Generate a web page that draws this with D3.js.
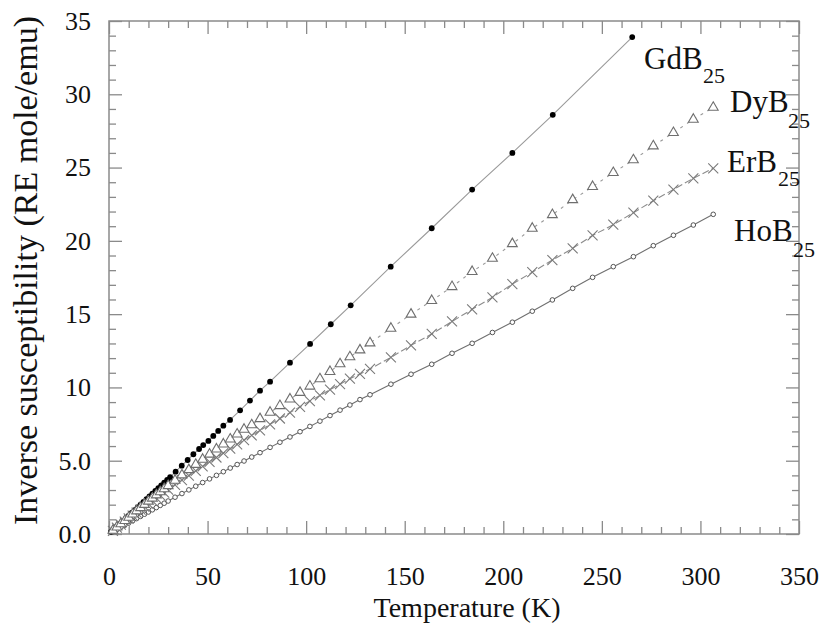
<!DOCTYPE html>
<html>
<head>
<meta charset="utf-8">
<script src="https://cdn.jsdelivr.net/npm/d3@7"></script>
<style>
  body { margin: 0; background: #fff; }
  svg text { font-family: "Liberation Serif", "Times New Roman", serif; fill: #111; }
</style>
</head>
<body>
<div id="chart"></div>
<script>
// tick labels
var xTicks = [0, 50, 100, 150, 200, 250, 300, 350];
var yTicks = [0, 5, 10, 15, 20, 25, 30, 35];

// GdB25 (filled circles)
var gdT = [1, 2.5, 4, 5.5, 7, 8.5, 10, 11.5, 13, 14.5, 16, 17.5, 19, 20.5, 22, 23.5, 25, 26.5, 28, 29.5, 31,
    33.8, 36.9, 39.9, 42.8, 45.7, 47.8, 50.4, 52.9, 55.4, 58.0, 61.4, 66.5, 71.5, 76.6, 81.7, 91.8,
    102, 112.5, 122.6, 142.9, 163.7, 184.2, 204.6, 225.1, 265.4];
var gdY = [0.15, 0.33, 0.51, 0.69, 0.88, 1.06, 1.25, 1.44, 1.62, 1.81, 2.0, 2.19, 2.38, 2.56, 2.75, 2.94, 3.13, 3.32, 3.5, 3.69, 3.88,
    4.25, 4.66, 5.05, 5.44, 5.8, 6.07, 6.35, 6.69, 7.03, 7.39, 7.78, 8.44, 9.1, 9.78, 10.39, 11.69,
    12.97, 14.31, 15.6, 18.24, 20.86, 23.5, 26.0, 28.6, 33.9];

// temperatures shared by DyB25, ErB25, HoB25
var temps = [2, 4, 6, 8, 10, 12, 14, 16, 18, 20, 22, 24, 26, 28, 30,
    33.5, 37, 40.5, 44, 47.5, 51, 54.5, 58, 61.5, 65, 68.5,
    72.4, 76.6, 81.7, 86.7, 91.8, 96.9, 101.9, 107, 112.1, 117.2, 122.2, 127.3, 132.4,
    143, 153.2, 163.7, 174, 184.2, 194.5, 204.6, 214.7, 224.9, 235.2, 245.3, 255.8, 266, 276.1, 286.3, 296.4, 306.5];

var dyY = [0.25, 0.47, 0.69, 0.91, 1.13, 1.35, 1.57, 1.79, 2.01, 2.23, 2.44, 2.66, 2.87, 3.08, 3.29,
    3.66, 4.02, 4.38, 4.74, 5.09, 5.44, 5.79, 6.13, 6.47, 6.81, 7.14,
    7.44, 7.86, 8.3, 8.75, 9.2, 9.65, 10.08, 10.58, 11.08, 11.6, 12.08, 12.55, 13.03,
    14.03, 14.99, 15.92, 16.87, 17.9, 18.8, 19.8, 20.85, 21.78, 22.8, 23.7, 24.65, 25.52, 26.47, 27.38, 28.29, 29.1];

var erY = [0.22, 0.43, 0.64, 0.85, 1.06, 1.26, 1.46, 1.66, 1.86, 2.06, 2.26, 2.45, 2.64, 2.83, 3.02,
    3.35, 3.67, 3.99, 4.3, 4.61, 4.92, 5.22, 5.52, 5.82, 6.12, 6.41,
    6.73, 7.07, 7.48, 7.88, 8.28, 8.68, 9.07, 9.46, 9.85, 10.22, 10.6, 10.92, 11.26,
    12.05, 12.87, 13.65, 14.5, 15.33, 16.15, 17.05, 17.86, 18.69, 19.49, 20.37, 21.1, 21.92, 22.74, 23.5, 24.27, 24.95];

var hoY = [0.15, 0.3, 0.45, 0.6, 0.75, 0.9, 1.05, 1.2, 1.35, 1.5, 1.65, 1.8, 1.95, 2.1, 2.25,
    2.51, 2.76, 3.01, 3.26, 3.51, 3.76, 4.0, 4.25, 4.5, 4.74, 4.98,
    5.25, 5.55, 5.91, 6.26, 6.62, 6.98, 7.34, 7.7, 8.08, 8.45, 8.8, 9.17, 9.5,
    10.22, 10.9, 11.58, 12.33, 13.01, 13.75, 14.45, 15.2, 15.97, 16.76, 17.51, 18.24, 18.92, 19.67, 20.38, 21.08, 21.81];

var W = 838, H = 623;
var margin = { top: 21, right: 39, bottom: 89, left: 109 },
    width = W - margin.left - margin.right,
    height = H - margin.top - margin.bottom;

var x = d3.scaleLinear().domain([0, 350]).range([0, width]);
var y = d3.scaleLinear().domain([0, 35]).range([height, 0]);

var svg = d3.select("#chart").append("svg")
    .attr("width", W)
    .attr("height", H)
    .append("g")
    .attr("transform", "translate(" + margin.left + "," + margin.top + ")");

var axisColor = "#8a8a8a";
var serif = '"Liberation Serif", "Times New Roman", serif';
var minorX = d3.range(0, 351, 10).filter(function (d) { return d % 50 !== 0; });
var minorY = d3.range(0, 36, 1).filter(function (d) { return d % 5 !== 0; });

function styleAxis(g) {
    g.attr("font-family", null).attr("font-size", null);
    g.select(".domain").remove();
    g.selectAll(".tick line").attr("stroke", axisColor).attr("stroke-width", 1.3);
    g.selectAll(".tick text")
        .style("font-family", serif)
        .style("font-size", "26px")
        .attr("fill", "#111");
}

// bottom
svg.append("g").attr("transform", "translate(0," + height + ")")
    .call(d3.axisBottom(x).tickValues(xTicks).tickSize(-13).tickPadding(33).tickFormat(d3.format("d")))
    .call(styleAxis);
svg.append("g").attr("transform", "translate(0," + height + ")")
    .call(d3.axisBottom(x).tickValues(minorX).tickSize(-7).tickFormat(""))
    .call(styleAxis);
// top
svg.append("g")
    .call(d3.axisTop(x).tickValues(xTicks).tickSize(-13).tickFormat(""))
    .call(styleAxis);
svg.append("g")
    .call(d3.axisTop(x).tickValues(minorX).tickSize(-7).tickFormat(""))
    .call(styleAxis);
// left
svg.append("g")
    .call(d3.axisLeft(y).tickValues(yTicks).tickSize(-13).tickPadding(18)
        .tickFormat(function (d) { return d < 10 ? d.toFixed(1) : d; }))
    .call(styleAxis);
svg.append("g")
    .call(d3.axisLeft(y).tickValues(minorY).tickSize(-7).tickFormat(""))
    .call(styleAxis);
// right
svg.append("g").attr("transform", "translate(" + width + ",0)")
    .call(d3.axisRight(y).tickValues(yTicks).tickSize(-13).tickFormat(""))
    .call(styleAxis);
svg.append("g").attr("transform", "translate(" + width + ",0)")
    .call(d3.axisRight(y).tickValues(minorY).tickSize(-7).tickFormat(""))
    .call(styleAxis);

// frame
svg.append("rect")
    .attr("width", width).attr("height", height)
    .attr("fill", "none").attr("stroke", axisColor).attr("stroke-width", 1.5);

// axis titles
svg.append("text")
    .attr("x", width / 2 + 13).attr("y", height + 83)
    .attr("text-anchor", "middle").style("font-size", "28px")
    .text("Temperature (K)");
svg.append("text")
    .attr("transform", "translate(" + (-72) + "," + (height / 2 - 7) + ") rotate(-90)")
    .attr("text-anchor", "middle").style("font-size", "34px")
    .text("Inverse susceptibility (RE mole/emu)");

function pairs(ts, ys) {
    return ts.map(function (t, i) { return [t, ys[i]]; });
}

var line = d3.line()
    .x(function (d) { return x(d[0]); })
    .y(function (d) { return y(d[1]); });

var series = [
    { data: pairs(gdT, gdY), stroke: "#9a9a9a", dash: null, marker: "dot" },
    { data: pairs(temps, hoY), stroke: "#707070", dash: null, marker: "ring" },
    { data: pairs(temps, erY), stroke: "#8c8c8c", dash: "7,3", marker: "cross" },
    { data: pairs(temps, dyY), stroke: "#9a9a9a", dash: "3,5", marker: "tri" }
];

series.forEach(function (s) {
    svg.append("path")
        .datum(s.data)
        .attr("fill", "none")
        .attr("stroke", s.stroke)
        .attr("stroke-width", 1.1)
        .attr("stroke-dasharray", s.dash)
        .attr("d", line);

    var g = svg.append("g");
    var pts = g.selectAll("g").data(s.data).enter().append("g")
        .attr("transform", function (d) { return "translate(" + x(d[0]) + "," + y(d[1]) + ")"; });

    if (s.marker === "dot") {
        pts.append("circle").attr("r", 2.9).attr("fill", "#000");
    } else if (s.marker === "ring") {
        pts.append("circle").attr("r", 2.3).attr("fill", "#fff")
            .attr("stroke", "#555").attr("stroke-width", 1);
    } else if (s.marker === "cross") {
        pts.append("path").attr("d", "M-5,-5L5,5M-5,5L5,-5")
            .attr("stroke", "#7a7a7a").attr("stroke-width", 1.1).attr("fill", "none");
    } else {
        pts.append("path").attr("d", d3.symbol().type(d3.symbolTriangle).size(42))
            .attr("fill", "#fff").attr("stroke", "#6e6e6e").attr("stroke-width", 1.1);
    }
});

// series labels
var labels = [
    { name: "GdB", x: 535, y: 48, sx: 594, sy: 62 },
    { name: "DyB", x: 621, y: 91, sx: 679, sy: 107 },
    { name: "ErB", x: 618, y: 151, sx: 669, sy: 165 },
    { name: "HoB", x: 625, y: 220, sx: 684, sy: 236 }
];
labels.forEach(function (l) {
    var t = svg.append("text").style("font-size", "31px");
    t.append("tspan").attr("x", l.x).attr("y", l.y).text(l.name);
    t.append("tspan").attr("x", l.sx).attr("y", l.sy).style("font-size", "22px").text("25");
});
</script>
</body>
</html>
